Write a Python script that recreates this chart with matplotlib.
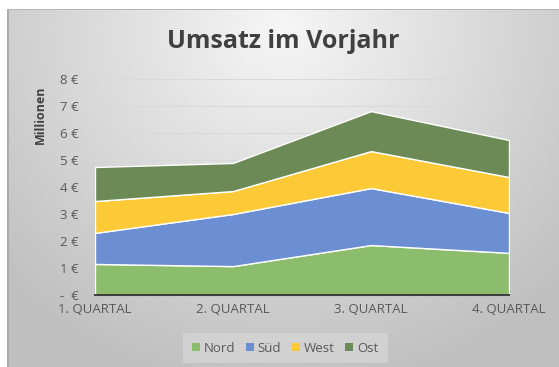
import numpy as np
import matplotlib
matplotlib.use("Agg")
import matplotlib.pyplot as plt
from matplotlib.patches import Rectangle

plt.rcParams['font.family'] = ['Open Sans', 'DejaVu Sans']

categories = ["1. QUARTAL", "2. QUARTAL", "3. QUARTAL", "4. QUARTAL"]
series_names = ["Nord", "Süd", "West", "Ost"]
nord = [1.15, 1.07, 1.85, 1.56]
sued = [1.15, 1.93, 2.11, 1.48]
west = [1.18, 0.85, 1.37, 1.33]
ost = [1.26, 1.04, 1.48, 1.37]
colors = ["#8cbd6c", "#6b8fd2", "#fcc937", "#6b8a56"]
yticks = [0, 1, 2, 3, 4, 5, 6, 7, 8]
ytick_labels = ["-  €", "1 €", "2 €", "3 €", "4 €", "5 €", "6 €", "7 €", "8 €"]

W, H = 559, 367
fig = plt.figure(figsize=(W / 100, H / 100), dpi=100)
fig.patch.set_facecolor("white")

# gradient background of the chart area
bg = fig.add_axes([7 / W, 0, 1 - 7 / W, 1 - 9 / H])
bg.set_axis_off()
yy, xx = np.mgrid[0:1:200j, 0:1:300j]
d = np.sqrt(((xx - 0.5) / 0.75) ** 2 + ((yy - 0.05) / 1.1) ** 2)
shade = np.clip(0.965 - 0.23 * d, 0.75, 0.97)
bg.imshow(np.dstack([shade] * 3), extent=[0, 1, 0, 1], origin="upper", aspect="auto")
bg.set_xlim(0, 1)
bg.set_ylim(0, 1)
bg.plot([0.0015, 0.0015], [0, 1], color="#a6a6a6", lw=1.2)
bg.plot([0, 1], [0.999, 0.999], color="#b0b0b0", lw=1.2)

ax = fig.add_axes([95 / W, 1 - 295 / H, (509 - 95) / W, (295 - 79) / H])
ax.patch.set_alpha(0)
x = np.arange(len(categories))
ax.stackplot(x, nord, sued, west, ost, colors=colors, labels=series_names,
             edgecolor="white", linewidth=1.0)
ax.set_xlim(0, len(categories) - 1)
ax.set_ylim(0, 8)
ax.set_yticks(yticks)
ax.set_yticklabels(ytick_labels)
ax.set_xticks(x)
ax.set_xticklabels(categories)
ax.grid(axis="y", color="#d9d9d9", lw=0.8, zorder=0)
ax.set_axisbelow(True)
for s in ["top", "right", "left"]:
    ax.spines[s].set_visible(False)
ax.spines["bottom"].set_color("#404040")
ax.spines["bottom"].set_linewidth(1.5)
ax.spines["bottom"].set_zorder(5)
ax.tick_params(axis="both", length=0, colors="#595959", labelsize=9.5)
ax.tick_params(axis="y", pad=12)
ax.tick_params(axis="x", pad=6)

fig.text(283 / W, 1 - 42 / H, "Umsatz im Vorjahr", ha="center", va="center",
         fontsize=18, fontweight="bold", color="#404040")
fig.text(40 / W, 1 - 115 / H, "Millionen", rotation=90, ha="center", va="center",
         fontsize=9, fontweight="bold", color="#404040")

# legend box
fig.patches.append(Rectangle((183 / W, 1 - 363 / H), (388 - 183) / W, 30 / H,
                             transform=fig.transFigure, facecolor="#dadada",
                             edgecolor="none", alpha=0.6))
handles = [Rectangle((0, 0), 1, 1, facecolor=c) for c in colors]
fig.legend(handles, series_names, loc="center", bbox_to_anchor=(285 / W, 1 - 348 / H),
           ncol=4, frameon=False, fontsize=9.5, handlelength=0.6, handleheight=0.6,
           handletextpad=0.3, columnspacing=0.8, labelcolor="#595959")

fig.savefig("out.png", dpi=100)
